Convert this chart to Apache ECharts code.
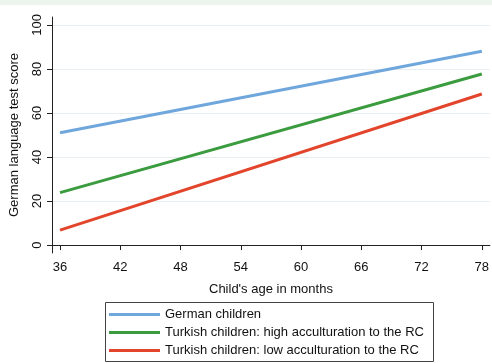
<!DOCTYPE html>
<html><head><meta charset="utf-8">
<script src="https://cdn.jsdelivr.net/npm/echarts@6/dist/echarts.min.js"></script>
<style>html,body{margin:0;padding:0;background:#fff}#c{width:492px;height:363px}</style>
</head><body><div id="c"></div>
<script>
const ages = [36, 78];
const german = [51.0, 88.0];
const turkishHigh = [23.8, 77.7];
const turkishLow = [6.8, 68.6];
const xTicks = [36, 42, 48, 54, 60, 66, 72, 78];
const yTicks = [0, 20, 40, 60, 80, 100];
const names = ['German children', 'Turkish children: high acculturation to the RC', 'Turkish children: low acculturation to the RC'];
const colors = ['#6fa7dc', '#3b9b3f', '#e2452b'];

const chart = echarts.init(document.getElementById('c'));
const font = 'Liberation Sans, Arial, sans-serif';
const mk = (arr) => ages.map((a, i) => [a, arr[i]]);
chart.setOption({
  animation: false,
  backgroundColor: '#fff',
  textStyle: {fontFamily: font},
  graphic: [
    {type: 'rect', shape: {x: 0, y: 0, width: 492, height: 5}, style: {fill: '#edf4ed'}, silent: true},
    {type: 'rect', shape: {x: 105.5, y: 302.5, width: 328, height: 59}, style: {fill: '#fff', stroke: '#444', lineWidth: 1}, z: -1, silent: true}
  ],
  grid: {left: 48, right: 2, top: 17, bottom: 110, containLabel: false},
  xAxis: {
    type: 'value', min: 35.2, max: 78.8,
    name: "Child's age in months", nameLocation: 'middle', nameGap: 30,
    nameTextStyle: {color: '#111', fontSize: 13, fontFamily: font},
    axisLine: {show: true, lineStyle: {color: '#222', width: 1}},
    axisTick: {show: true, length: 5, lineStyle: {color: '#222'}, customValues: xTicks},
    axisLabel: {color: '#111', fontSize: 13, margin: 8, customValues: xTicks, fontFamily: font},
    splitLine: {show: false}
  },
  yAxis: {
    type: 'value', min: -3.6, max: 103.6,
    name: 'German language test score', nameLocation: 'middle', nameGap: 31, nameRotate: 90,
    nameTextStyle: {color: '#111', fontSize: 13, fontFamily: font},
    axisLine: {show: true, lineStyle: {color: '#222', width: 1}},
    axisTick: {show: true, length: 5, lineStyle: {color: '#222'}, customValues: yTicks},
    axisLabel: {color: '#111', fontSize: 13, margin: 8, rotate: 90, customValues: yTicks, fontFamily: font},
    splitLine: {show: false}
  },
  legend: {
    orient: 'vertical', left: 104, top: 302, itemWidth: 51, itemHeight: 3, itemGap: 3,
    icon: 'rect',
    textStyle: {color: '#111', fontSize: 13, lineHeight: 15, fontFamily: font},
    data: names
  },
  series: [
    {type: 'line', name: 'grid', data: [], silent: true, z: 0,
     markLine: {silent: true, symbol: 'none', label: {show: false}, z: 0,
       lineStyle: {color: '#e8eef2', width: 1, type: 'solid'},
       data: yTicks.map(v => ({yAxis: v}))}},
    {type: 'line', name: names[0], z: 5, data: mk(german), showSymbol: false, lineStyle: {width: 3, color: colors[0]}, itemStyle: {color: colors[0]}},
    {type: 'line', name: names[1], z: 5, data: mk(turkishHigh), showSymbol: false, lineStyle: {width: 3, color: colors[1]}, itemStyle: {color: colors[1]}},
    {type: 'line', name: names[2], z: 5, data: mk(turkishLow), showSymbol: false, lineStyle: {width: 3, color: colors[2]}, itemStyle: {color: colors[2]}}
  ]
});
</script></body></html>
